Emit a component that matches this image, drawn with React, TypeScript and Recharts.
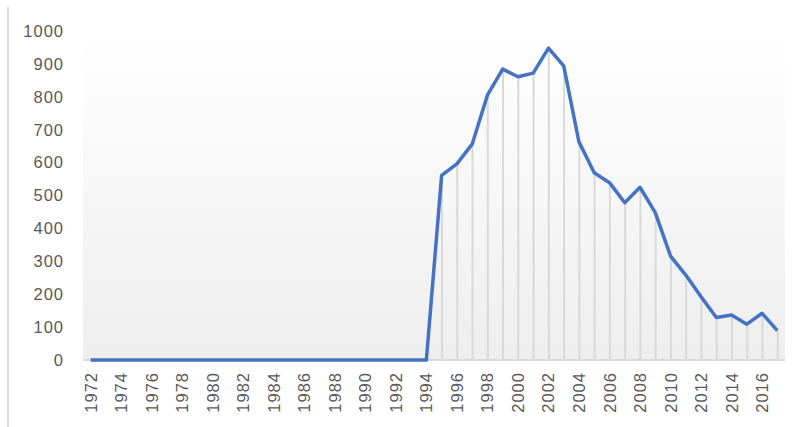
import { ComposedChart, Line, Bar, XAxis, YAxis, CartesianGrid, ReferenceLine } from 'recharts';

const years: string[] = [
  '1972', '1973', '1974', '1975', '1976', '1977', '1978', '1979', '1980', '1981',
  '1982', '1983', '1984', '1985', '1986', '1987', '1988', '1989', '1990', '1991',
  '1992', '1993', '1994', '1995', '1996', '1997', '1998', '1999', '2000', '2001',
  '2002', '2003', '2004', '2005', '2006', '2007', '2008', '2009', '2010', '2011',
  '2012', '2013', '2014', '2015', '2016', '2017',
];

const counts: number[] = [
  0, 0, 0, 0, 0, 0, 0, 0, 0, 0,
  0, 0, 0, 0, 0, 0, 0, 0, 0, 0,
  0, 0, 0, 561, 596, 656, 805, 884, 861, 872,
  948, 894, 663, 569, 539, 478, 525, 448, 316, 258,
  192, 129, 137, 109, 142, 89,
];

const yTicks: number[] = [0, 100, 200, 300, 400, 500, 600, 700, 800, 900, 1000];

const data = years.map((year, i) => ({ year, value: counts[i] }));

const FONT = '"Liberation Sans", Arial, sans-serif';

// rotated year labels, centred on the tick
const YearTick = (props: any) => {
  const { x, y, payload } = props;
  return (
    <text
      x={x}
      y={y}
      transform={`rotate(-90 ${x} ${y})`}
      textAnchor="end"
      dominantBaseline="central"
      fill="#595959"
      fontSize={16.5}
      letterSpacing={1}
      fontFamily={FONT}
    >
      {payload.value}
    </text>
  );
};

export default function App() {
  return (
    <div style={{ position: 'absolute', left: 0, top: 0, width: 798, height: 427, background: '#fff' }}>
      <div
        style={{ position: 'absolute', left: 7, top: 7, width: 2, height: 420, background: '#d9d9d9' }}
      />
      <ComposedChart
        width={798}
        height={427}
        data={data}
        margin={{ top: 31, right: 13, bottom: 0, left: 0 }}
        barCategoryGap={0}
      >
        <defs>
          <linearGradient id="plotBg" x1="0" y1="0" x2="0" y2="1">
            <stop offset="0%" stopColor="#ffffff" />
            <stop offset="100%" stopColor="#eeeeee" />
          </linearGradient>
        </defs>
        <CartesianGrid horizontal={false} vertical={false} fill="url(#plotBg)" stroke="none" />
        <XAxis
          dataKey="year"
          height={67}
          interval={1}
          tickLine={false}
          tickSize={0}
          tickMargin={12}
          axisLine={false}
          tick={<YearTick />}
        />
        <YAxis
          width={83}
          domain={[0, 1000]}
          ticks={yTicks}
          axisLine={false}
          tickLine={false}
          tickSize={0}
          tickMargin={19}
          tick={{ fill: '#595959', fontSize: 16.5, fontFamily: FONT, letterSpacing: 1 }}
        />
        <ReferenceLine y={0} stroke="#d9d9d9" strokeWidth={2} />
        <Bar dataKey="value" barSize={2} fill="#d9d9d9" isAnimationActive={false} />
        <Line
          type="linear"
          dataKey="value"
          stroke="#4472C4"
          strokeWidth={3.5}
          strokeLinejoin="round"
          dot={false}
          activeDot={false}
          isAnimationActive={false}
        />
      </ComposedChart>
    </div>
  );
}
